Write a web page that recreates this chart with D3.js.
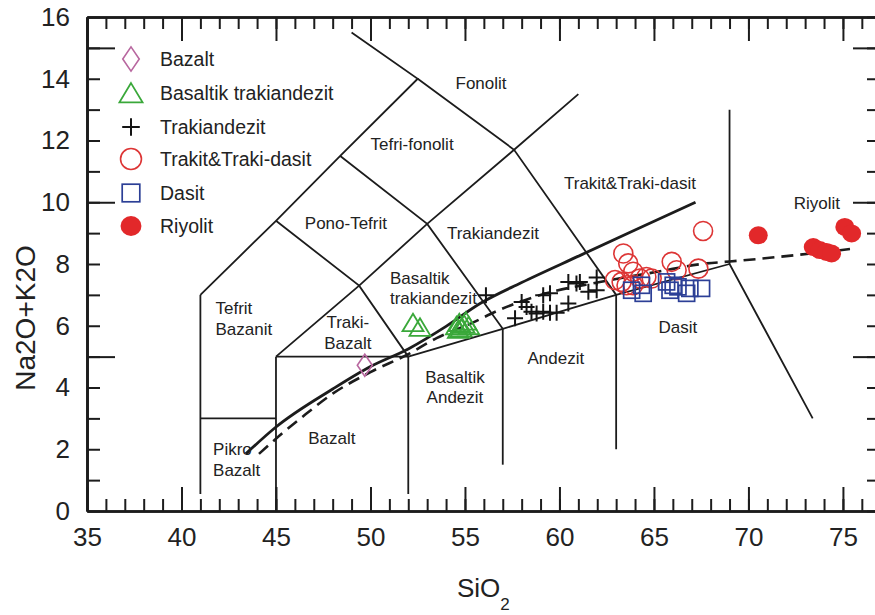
<!DOCTYPE html>
<html>
<head>
<meta charset="utf-8">
<script src="https://cdn.jsdelivr.net/npm/d3@7"></script>
<style>
  body { margin: 0; background: #fff; }
  svg { display: block; }
  text { font-family: "Liberation Sans", Arial, Helvetica, sans-serif; fill: #222; }
</style>
</head>
<body>
<svg id="chart" width="875" height="615"></svg>
<script>
// ---- Axis ticks ----
const xMajorTicks = [35, 40, 45, 50, 55, 60, 65, 70, 75];
const yTickLabels = [0, 2, 4, 6, 8, 10, 12, 14, 16];
const yLongTicks = [5, 10, 15];

// ---- TAS field boundaries (SiO2, Na2O+K2O) ----
const fieldBoundaries = [
  [[41, 0.55], [41, 7]],
  [[41, 3], [45, 3]],
  [[45, 0], [45, 5]],
  [[45, 5], [52, 5]],
  [[52, 0.55], [52, 5]],
  [[52, 5], [57, 5.9], [63, 7], [69, 8]],
  [[57, 1.5], [57, 5.9]],
  [[63, 2], [63, 7]],
  [[69, 13], [69, 8], [73.4, 3]],
  [[41, 7], [45, 9.4], [48.4, 11.5], [52.5, 14], [49, 15.5]],
  [[52.5, 14], [57.6, 11.7], [63, 7]],
  [[45, 9.4], [49.4, 7.3], [52, 5]],
  [[48.4, 11.5], [53, 9.3], [57, 5.9]],
  [[45, 5], [49.4, 7.3], [53, 9.3], [57.6, 11.7], [61, 13.5]]
];

// Alkaline / subalkaline dividing lines
const alkalineDivideSolid = [
  [43.4, 1.85], [45, 2.72], [48, 3.95], [50, 4.68], [52, 5.25], [54, 5.98],
  [55.8, 6.72], [58, 7.4], [61.1, 8.28], [64, 9.1], [67.2, 10.0]
];
const alkalineDivideDashed = [
  [44.1, 1.85], [45.4, 2.55], [46.3, 3.0], [48, 3.8], [50, 4.5], [52, 5.08],
  [53.5, 5.6], [55.3, 6.07], [57, 6.56], [59.3, 7.05], [62, 7.4], [65.1, 7.74],
  [67.8, 8.02], [69, 8.08], [73.3, 8.34], [75.6, 8.5]
];

// ---- Rock field names: [lines of text, SiO2, Na2O+K2O, anchor] ----
const fieldNames = [
  [["Fonolit"], 55.85, 13.85, "middle"],
  [["Tefri-fonolit"], 52.2, 11.88, "middle"],
  [["Pono-Tefrit"], 48.7, 9.32, "middle"],
  [["Trakiandezit"], 56.48, 9.0, "middle"],
  [["Trakit&Traki-dasit"], 63.73, 10.61, "middle"],
  [["Riyolit"], 73.62, 9.97, "middle"],
  [["Tefrit", "Bazanit"], 41.8, 6.23, "start"],
  [["Traki-", "Bazalt"], 48.8, 5.78, "middle"],
  [["Basaltik", "trakiandezit"], 51.03, 7.22, "start"],
  [["Basaltik", "Andezit"], 54.47, 4.01, "middle"],
  [["Andezit"], 59.81, 4.95, "middle"],
  [["Dasit"], 66.27, 5.95, "middle"],
  [["Bazalt"], 47.96, 2.36, "middle"],
  [["Pikro", "Bazalt"], 41.67, 1.67, "start"]
];

// ---- Samples (SiO2, Na2O+K2O) ----
const bazalt = [[49.7, 4.72]];
const basaltikTrakiandezit = [
  [52.25, 6.1], [52.62, 5.95], [54.55, 6.0], [54.7, 6.1], [54.8, 5.93],
  [54.95, 6.05], [55.05, 6.15], [55.2, 6.0], [54.65, 5.88]
];
const trakiandezit = [
  [56.11, 6.99], [57.65, 6.24], [58.0, 6.77], [58.26, 6.61], [58.52, 6.45],
  [58.79, 6.4], [59.14, 6.99], [59.14, 6.45], [59.5, 7.05], [59.5, 6.42],
  [59.85, 6.42], [60.47, 6.72], [60.47, 7.42], [60.9, 7.37], [61.08, 7.42],
  [61.53, 7.1], [61.97, 7.56], [61.97, 7.15]
];
const trakitTrakiDasit = [
  [67.6, 9.07], [63.38, 8.34], [63.64, 8.02], [63.9, 7.75], [62.94, 7.48],
  [63.29, 7.42], [63.55, 7.31], [63.9, 7.31], [64.26, 7.53], [64.6, 7.58],
  [64.88, 7.53], [65.94, 8.07], [66.2, 7.8], [67.35, 7.85]
];
const dasit = [
  [63.82, 7.15], [64.34, 7.31], [64.43, 7.05], [65.67, 7.42], [66.02, 7.31],
  [66.27, 7.26], [65.85, 7.15], [66.9, 7.21], [67.52, 7.21], [66.73, 7.05]
];
const riyolit = [
  [70.52, 8.93], [75.1, 9.2], [75.46, 8.99], [73.43, 8.55], [73.78, 8.45],
  [74.13, 8.39], [74.4, 8.34]
];

const legendItems = [
  ["Bazalt", "diamond"],
  ["Basaltik trakiandezit", "triangle"],
  ["Trakiandezit", "plus"],
  ["Trakit&Traki-dasit", "circle"],
  ["Dasit", "square"],
  ["Riyolit", "dot"]
];

// ---- Layout ----
const svg = d3.select("#chart");
const plotLeft = 87, plotRight = 876, plotTop = 17, plotBottom = 511;
const x = d3.scaleLinear().domain([35, 76.75]).range([plotLeft, plotRight]);
const y = d3.scaleLinear().domain([0, 16]).range([plotBottom, plotTop]);

const INK = "#1c1c1c";
const line = d3.line().x(d => x(d[0])).y(d => y(d[1]));

// Field boundaries
const gFields = svg.append("g");
fieldBoundaries.forEach(seg => {
  gFields.append("path").attr("d", line(seg))
    .attr("fill", "none").attr("stroke", INK).attr("stroke-width", 1.8)
    .attr("stroke-linejoin", "miter");
});

// Alkaline divide curves
const smooth = d3.line().x(d => x(d[0])).y(d => y(d[1])).curve(d3.curveMonotoneX);
svg.append("path").attr("d", smooth(alkalineDivideSolid))
  .attr("fill", "none").attr("stroke", INK).attr("stroke-width", 2.8);
svg.append("path").attr("d", smooth(alkalineDivideDashed))
  .attr("fill", "none").attr("stroke", INK).attr("stroke-width", 2.6)
  .attr("stroke-dasharray", "12,7");

// Field names
const gNames = svg.append("g").attr("font-size", 17);
fieldNames.forEach(([lines, sx, sy, anchor]) => {
  const n = lines.length, lh = 20.5;
  const cy = y(sy);
  lines.forEach((t, i) => {
    gNames.append("text")
      .attr("x", x(sx))
      .attr("y", cy + (i - (n - 1) / 2) * lh + 6)
      .attr("text-anchor", anchor)
      .attr("fill", "#2b2b2b")
      .text(t);
  });
});

// Marker drawing
const styles = {
  diamond: { stroke: "#b8679f" },
  triangle: { stroke: "#3aa83a" },
  plus: { stroke: "#141414" },
  circle: { stroke: "#dd3535" },
  square: { stroke: "#2c3f96" },
  dot: { fill: "#e2282a" }
};
function marker(g, type, cx, cy, s) {
  const st = styles[type];
  if (type === "diamond") {
    g.append("path").attr("d", `M${cx},${cy - 11 * s}L${cx + 7.5 * s},${cy}L${cx},${cy + 11 * s}L${cx - 7.5 * s},${cy}Z`)
      .attr("fill", "none").attr("stroke", st.stroke).attr("stroke-width", 1.6);
  } else if (type === "triangle") {
    g.append("path").attr("d", `M${cx},${cy - 9 * s}L${cx + 10.5 * s},${cy + 8.5 * s}L${cx - 10.5 * s},${cy + 8.5 * s}Z`)
      .attr("fill", "none").attr("stroke", st.stroke).attr("stroke-width", 1.8);
  } else if (type === "plus") {
    g.append("path").attr("d", `M${cx - 8 * s},${cy}H${cx + 8 * s}M${cx},${cy - 8 * s}V${cy + 8 * s}`)
      .attr("fill", "none").attr("stroke", st.stroke).attr("stroke-width", 2);
  } else if (type === "circle") {
    g.append("circle").attr("cx", cx).attr("cy", cy).attr("r", 9.5 * s)
      .attr("fill", "none").attr("stroke", st.stroke).attr("stroke-width", 1.6);
  } else if (type === "square") {
    g.append("rect").attr("x", cx - 8 * s).attr("y", cy - 8 * s)
      .attr("width", 16 * s).attr("height", 16 * s)
      .attr("fill", "none").attr("stroke", st.stroke).attr("stroke-width", 1.7);
  } else if (type === "dot") {
    g.append("ellipse").attr("cx", cx).attr("cy", cy).attr("rx", 9.5 * s).attr("ry", 9 * s)
      .attr("fill", st.fill);
  }
}

const gPts = svg.append("g");
[
  [bazalt, "diamond"],
  [basaltikTrakiandezit, "triangle"],
  [trakiandezit, "plus"],
  [trakitTrakiDasit, "circle"],
  [dasit, "square"],
  [riyolit, "dot"]
].forEach(([arr, type]) => arr.forEach(d => marker(gPts, type, x(d[0]), y(d[1]), 1)));

// Legend
const gLeg = svg.append("g").attr("font-size", 19.5);
const legY = [59, 93, 127, 159, 193, 226];
legendItems.forEach(([label, type], i) => {
  marker(gLeg, type, 131, legY[i], 1.1);
  gLeg.append("text").attr("x", 160).attr("y", legY[i] + 7).text(label);
});

// ---- Axes (frame with inward ticks) ----
const minorX = d3.range(36, 77);
const minorY = d3.range(0, 17);
function styleAxis(g) {
  g.select(".domain").attr("stroke", INK).attr("stroke-width", 2.4);
  g.selectAll(".tick line").attr("stroke", INK).attr("stroke-width", 2);
}
// bottom
svg.append("g").attr("transform", `translate(0,${plotBottom})`)
  .call(d3.axisBottom(x).tickValues(minorX).tickSize(-12).tickSizeOuter(0).tickFormat(""))
  .call(styleAxis);
const gxb = svg.append("g").attr("transform", `translate(0,${plotBottom})`)
  .call(d3.axisBottom(x).tickValues(xMajorTicks).tickSize(-24).tickSizeOuter(0).tickPadding(17))
  .call(styleAxis);
gxb.selectAll("text").attr("font-size", 26).attr("fill", "#222");
// top
svg.append("g").attr("transform", `translate(0,${plotTop})`)
  .call(d3.axisTop(x).tickValues(minorX).tickSize(-12).tickSizeOuter(0).tickFormat(""))
  .call(styleAxis);
svg.append("g").attr("transform", `translate(0,${plotTop})`)
  .call(d3.axisTop(x).tickValues(xMajorTicks).tickSize(-24).tickSizeOuter(0).tickFormat(""))
  .call(styleAxis);
// left
svg.append("g").attr("transform", `translate(${plotLeft},0)`)
  .call(d3.axisLeft(y).tickValues(minorY).tickSize(-13).tickSizeOuter(0).tickFormat(""))
  .call(styleAxis);
svg.append("g").attr("transform", `translate(${plotLeft},0)`)
  .call(d3.axisLeft(y).tickValues(yLongTicks).tickSize(-28).tickSizeOuter(0).tickFormat(""))
  .call(styleAxis);
const gyl = svg.append("g").attr("transform", `translate(${plotLeft},0)`)
  .call(d3.axisLeft(y).tickValues(yTickLabels).tickSize(0).tickSizeOuter(0).tickPadding(17))
  .call(styleAxis);
gyl.selectAll("text").attr("font-size", 26).attr("fill", "#222");
// right
svg.append("g").attr("transform", `translate(${plotRight},0)`)
  .call(d3.axisRight(y).tickValues(minorY).tickSize(-9).tickSizeOuter(0).tickFormat(""))
  .call(styleAxis);
svg.append("g").attr("transform", `translate(${plotRight},0)`)
  .call(d3.axisRight(y).tickValues(yLongTicks).tickSize(-23).tickSizeOuter(0).tickFormat(""))
  .call(styleAxis);

// Axis titles
const xt = svg.append("text").attr("x", 457).attr("y", 597).attr("font-size", 26).attr("fill", "#222");
xt.append("tspan").text("SiO");
xt.append("tspan").attr("font-size", 17).attr("dy", 13).text("2");

svg.append("text")
  .attr("transform", "translate(35,318) rotate(-90)")
  .attr("text-anchor", "middle")
  .attr("font-size", 28).attr("fill", "#222")
  .text("Na2O+K2O");
</script>
</body>
</html>
